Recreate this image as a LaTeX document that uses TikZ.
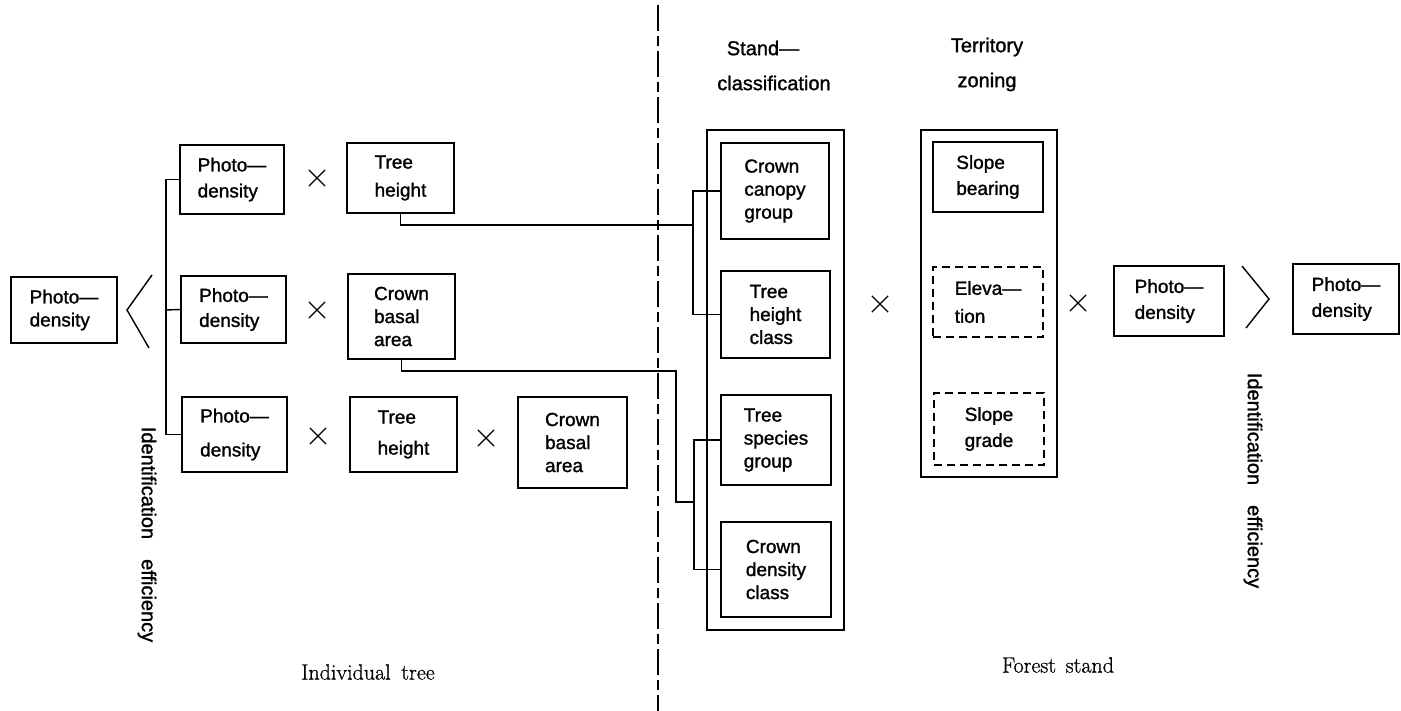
\documentclass[tikz,border=0pt]{standalone}
\usepackage{fontspec}
\setsansfont{Liberation Sans}
\newfontfamily\heavysans[FakeBold=1.3]{Liberation Sans}
\newfontfamily\heavyserif[FakeBold=0.8]{Latin Modern Roman}
\usetikzlibrary{shapes.misc}

\newcommand{\boxfont}{\heavysans\fontsize{19}{23}\selectfont}
\newcommand{\labfont}{\heavysans\fontsize{20}{24}\selectfont}
\newcommand{\serfont}{\heavyserif\fontsize{22}{26}\selectfont}

\tikzset{
	box/.style={draw, rectangle, line width=1.6pt, align=left, font=\boxfont, inner sep=0pt},
	dbox/.style={box, line width=1.4pt, dash pattern=on 8pt off 5pt},
	frame/.style={draw, rectangle, line width=1.6pt},
	link/.style={line width=1.4pt},
	xmark/.style={cross out, draw, minimum size=15pt, inner sep=0pt, line width=1.2pt},
	divider/.style={line width=1.4pt, dash pattern=on 26pt off 5pt on 10pt off 5pt}
}

\begin{document}
\begin{tikzpicture}[x=1pt, y=-1pt]
			\useasboundingbox (0,0) rectangle (1401,711);
			
			%Individual tree
			\node (pdL) at (64,310) [box, minimum width=106pt, minimum height=66pt]{Photo—\\density};
			\node (pdA) at (232,179.5) [box, minimum width=104pt, minimum height=69pt]{Photo—\\[3pt]density};
			\node (pdB) at (233.5,309.5) [box, minimum width=105pt, minimum height=67pt]{Photo—\\[2pt]density};
			\node (pdC) at (234.5,434.5) [box, minimum width=105pt, minimum height=75pt]{Photo—\\[11pt]density};
			\node (thA) at (400.5,178) [box, minimum width=107pt, minimum height=70pt]{Tree\\[5pt]height};
			\node (cbA) at (401.5,316.5) [box, minimum width=107pt, minimum height=85pt]{Crown\\basal\\area};
			\node (thB) at (403.5,434.5) [box, minimum width=107pt, minimum height=75pt]{Tree\\[8pt]height};
			\node (cbB) at (572.5,442.5) [box, minimum width=109pt, minimum height=91pt]{Crown\\basal\\area};
			
			%Crosses
			\node (xA) at (317,178) [xmark]{};
			\node (xB) at (317,310) [xmark]{};
			\node (xC) at (318,436) [xmark]{};
			\node (xD) at (486,438) [xmark]{};
			\node (xE) at (880,304) [xmark]{};
			\node (xF) at (1078,303) [xmark]{};
			
			%Angle signs
			\draw[link] (152,275) -- (127,310) -- (149,348);
			\draw[link] (1242,266) -- (1269,299) -- (1246,328);
			
			%Stand classification
			\node (standFrame) at (775.5,380) [frame, minimum width=137pt, minimum height=500pt]{};
			\node (scCanopy) at (775,191) [box, minimum width=108pt, minimum height=96pt]{Crown\\canopy\\group};
			\node (scHeight) at (775.5,314.5) [box, minimum width=109pt, minimum height=87pt]{Tree\\height\\class};
			\node (scSpecies) at (776,440) [box, minimum width=110pt, minimum height=90pt]{Tree\\species\\group};
			\node (scDensity) at (776,569.5) [box, minimum width=110pt, minimum height=95pt]{Crown\\density\\class};
			\node (standA) at (763,48) [font=\labfont]{Stand—};
			\node (standB) at (774,83) [font=\labfont]{classification};
			
			%Territory zoning
			\node (zoneFrame) at (989,303.5) [frame, minimum width=136pt, minimum height=347pt]{};
			\node (tzBearing) at (988,177) [box, minimum width=110pt, minimum height=70pt]{Slope\\[3pt]bearing};
			\node (tzElev) at (988,302) [dbox, minimum width=110pt, minimum height=70pt]{Eleva—\\[5pt]tion};
			\node (tzGrade) at (989,429) [dbox, minimum width=110pt, minimum height=72pt]{Slope\\[3pt]grade};
			\node (zoneA) at (987,47) [font=\labfont]{Territory};
			\node (zoneB) at (987,82) [font=\labfont]{zoning};
			
			\node (pdR) at (1169,301) [box, minimum width=110pt, minimum height=70pt]{Photo—\\[3pt]density};
			\node (pdF) at (1346,299) [box, minimum width=106pt, minimum height=70pt]{Photo—\\[3pt]density};
			
			%Links
			\coordinate (spine) at (166,310);
			\draw[link] (pdA.west) -| (spine) |- (pdC.west);
			\draw[link] (pdB.west) -- (spine);
			\coordinate (jointA) at (693,225);
			\draw[link] (thA.south) |- (jointA);
			\draw[link] (scCanopy.west) -| (jointA) |- (scHeight.west);
			\coordinate (bendB) at (676,371);
			\coordinate (jointB) at (694,502);
			\draw[link] (cbA.south) |- (bendB) |- (jointB);
			\draw[link] (scSpecies.west) -| (jointB) |- (scDensity.west);
			
			%Divider and labels
			\coordinate (divTop) at (658,5);
			\coordinate (divBot) at (658,711);
			\draw[divider] (divTop) -- (divBot);
			\node (idL) at (147,534.5) [font=\labfont, rotate=-90]{Identification\hspace{20pt}efficiency};
			\node (idR) at (1253,480.5) [font=\labfont, rotate=-90]{Identification\hspace{20pt}efficiency};
			\node (indiv) at (368,672) [font=\serfont]{Individual\hspace{4pt} tree};
			\node (forest) at (1058,665) [font=\serfont]{Forest\hspace{3pt} stand};
			
\end{tikzpicture}
\end{document}
